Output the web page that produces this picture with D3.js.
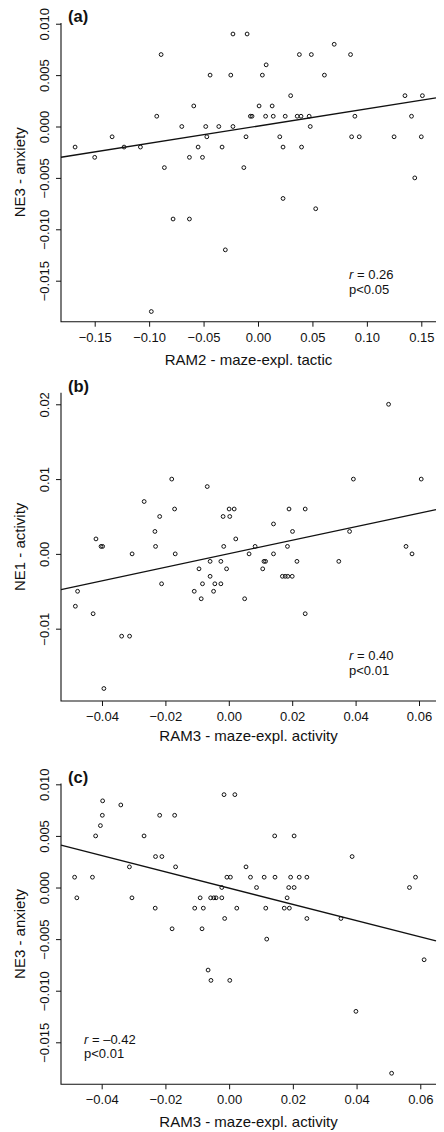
<!DOCTYPE html>
<html lang="en">
<head>
<meta charset="UTF-8">
<title>NE vs RAM scatter plots</title>
<script src="https://d3js.org/d3.v7.min.js"></script>
<style>
    body { margin: 0; background: #fff; }
    text { font-family: "Liberation Sans", Arial, Helvetica, sans-serif; fill: #111; }
    .tick line { stroke: #111; }
    .pt { fill: none; stroke: #111; stroke-width: 1; }
    .fit { stroke: #111; stroke-width: 1.3; fill: none; }
    .frame { stroke: #111; stroke-width: 1.1; fill: none; }
</style>
</head>
<body>
<div id="chart"></div>
<script>
// panel (a): RAM2 vs NE3
const aX = [-0.168, -0.150, -0.134, -0.123, -0.108, -0.093, -0.089, -0.086, -0.070, -0.063,
    -0.059, -0.055, -0.051, -0.048, -0.047, -0.044, -0.036, -0.033, -0.025, -0.023,
    -0.023, -0.013, -0.011, -0.010, -0.007, -0.0055, 0.001, 0.004, 0.007, 0.0075,
    0.013, 0.014, 0.020, 0.023, 0.025, 0.030, 0.036, 0.038, 0.0395, 0.040,
    0.047, 0.048, 0.049, 0.061, 0.070, 0.085, 0.086, 0.089, 0.093, 0.125,
    0.135, 0.141, 0.144, 0.150, 0.151, 0.023, 0.053, -0.078, -0.063, -0.030, -0.098];
const aY = [-0.002, -0.003, -0.001, -0.002, -0.002, 0.001, 0.007, -0.004, 0.000, -0.003,
    0.002, -0.002, -0.003, 0.000, -0.001, 0.005, 0.000, -0.002, 0.005, 0.009,
    0.000, -0.004, -0.001, 0.009, 0.001, 0.001, 0.002, 0.005, 0.001, 0.006,
    0.002, 0.001, -0.001, -0.002, 0.001, 0.003, 0.001, 0.007, 0.001, -0.002,
    0.001, 0.000, 0.007, 0.005, 0.008, 0.007, -0.001, 0.001, -0.001, -0.001,
    0.003, 0.001, -0.005, -0.001, 0.003, -0.007, -0.008, -0.009, -0.009, -0.012, -0.018];

// panel (b): RAM3 vs NE1
const bX = [0.0504, -0.0180, 0.0393, 0.0607, -0.0068, -0.0267, -0.0171, 0.0001, 0.0017, 0.0190,
    0.0241, -0.0218, -0.0018, 0.0003, 0.0141, -0.0233, 0.0201, 0.0381, -0.0419, 0.0022,
    -0.0403, -0.0398, -0.0231, -0.0016, 0.0083, 0.0185, 0.0559, -0.0305, -0.0169, 0.0064,
    0.0141, 0.0578, -0.0059, -0.0025, 0.0111, 0.0116, 0.0215, 0.0347, -0.0094, -0.0007,
    0.0107, -0.0059, 0.0169, 0.0178, 0.0186, 0.0200, -0.0212, -0.0083, -0.0044, -0.0025,
    -0.0477, -0.0109, -0.0048, -0.0087, 0.0050, -0.0484, -0.0428, 0.0241, -0.0338, -0.0313, -0.0394];
const bY = [0.020, 0.010, 0.010, 0.010, 0.009, 0.007, 0.006, 0.006, 0.006, 0.006,
    0.006, 0.005, 0.005, 0.005, 0.004, 0.003, 0.003, 0.003, 0.002, 0.002,
    0.001, 0.001, 0.001, 0.001, 0.001, 0.001, 0.001, 0.000, 0.000, 0.000,
    0.000, 0.000, -0.001, -0.001, -0.001, -0.001, -0.001, -0.001, -0.002, -0.002,
    -0.002, -0.003, -0.003, -0.003, -0.003, -0.003, -0.004, -0.004, -0.004, -0.004,
    -0.005, -0.005, -0.005, -0.006, -0.006, -0.007, -0.008, -0.008, -0.011, -0.011, -0.018];

// panel (c): RAM3 vs NE3
const cX = [-0.0397, -0.0340, -0.0016, 0.0018, -0.0398, -0.0218, -0.0171, -0.0404, -0.0419, -0.0267,
    0.0143, 0.0204, -0.0231, -0.0211, 0.0386, -0.0313, -0.0168, 0.0053, -0.0485, -0.0429,
    -0.0007, 0.0004, 0.0067, 0.0110, 0.0144, 0.0193, 0.0220, 0.0244, 0.0585, -0.0023,
    0.0086, 0.0187, 0.0204, 0.0566, -0.0478, -0.0305, -0.0091, -0.0058, -0.0048, -0.0041,
    -0.0023, 0.0182, -0.0232, -0.0108, -0.0081, 0.0024, 0.0115, 0.0173, 0.0189, -0.0014,
    0.0244, 0.0351, -0.0179, -0.0085, 0.0118, 0.0612, -0.0066, -0.0057, 0.0002, 0.0398, 0.0510];
const cY = [0.0084, 0.008, 0.009, 0.009, 0.007, 0.007, 0.007, 0.006, 0.005, 0.005,
    0.005, 0.005, 0.003, 0.003, 0.003, 0.002, 0.002, 0.002, 0.001, 0.001,
    0.001, 0.001, 0.001, 0.001, 0.001, 0.001, 0.001, 0.001, 0.001, 0.000,
    0.000, 0.000, 0.000, 0.000, -0.001, -0.001, -0.001, -0.001, -0.001, -0.001,
    -0.001, -0.001, -0.002, -0.002, -0.002, -0.002, -0.002, -0.002, -0.002, -0.003,
    -0.003, -0.003, -0.004, -0.004, -0.005, -0.007, -0.008, -0.009, -0.009, -0.012, -0.018];

// fitted lines [intercept, slope]
const aFit = [0.00004, 0.01675];
const bFit = [0.00002, 0.0904];
const cFit = [-0.00006, -0.0788];

// tick values
const xTicksA = [-0.15, -0.10, -0.05, 0.00, 0.05, 0.10, 0.15];
const xTicksBC = [-0.04, -0.02, 0.00, 0.02, 0.04, 0.06];
const yTicksA = [0.010, 0.005, 0.000, -0.005, -0.010, -0.015];
const yTicksB = [0.02, 0.01, 0.00, -0.01];
const yTicksC = [0.010, 0.005, 0.000, -0.005, -0.010, -0.015];

const W = 444, H = 1132;
const left = 61, right = 436;

const panels = [
    { tag: "(a)", xs: aX, ys: aY, fit: aFit, xTicks: xTicksA, yTicks: yTicksA,
      xFmt: ".2f", yFmt: ".3f", xDom: [-0.18095, 0.1635], yDom: [-0.01899, 0.01007],
      top: 23, bottom: 321.7, xTitleGap: 43.5,
      xTitle: "RAM2 - maze-expl. tactic", yTitle: "NE3 - anxiety",
      stat: ["0.26", "p<0.05"], statX: 349, statY: 279 },
    { tag: "(b)", xs: bX, ys: bY, fit: bFit, xTicks: xTicksBC, yTicks: yTicksB,
      xFmt: ".2f", yFmt: ".2f", xDom: [-0.05293, 0.06536], yDom: [-0.01967, 0.02155],
      top: 392.7, bottom: 701, xTitleGap: 40,
      xTitle: "RAM3 - maze-expl. activity", yTitle: "NE1 - activity",
      stat: ["0.40", "p<0.01"], statX: 349, statY: 660 },
    { tag: "(c)", xs: cX, ys: cY, fit: cFit, xTicks: xTicksBC, yTicks: yTicksC,
      xFmt: ".2f", yFmt: ".3f", xDom: [-0.05277, 0.06493], yDom: [-0.01907, 0.01008],
      top: 783.5, bottom: 1084.3, xTitleGap: 43,
      xTitle: "RAM3 - maze-expl. activity", yTitle: "NE3 - anxiety",
      stat: ["\u20130.42", "p<0.01"], statX: 84, statY: 1043.5 }
];

const svg = d3.select("#chart").append("svg")
    .attr("width", W)
    .attr("height", H);

panels.forEach(p => {
    const x = d3.scaleLinear().domain(p.xDom).range([left, right]);
    const y = d3.scaleLinear().domain(p.yDom).range([p.bottom, p.top]);
    const g = svg.append("g");

    // L-shaped frame
    g.append("path")
        .attr("class", "frame")
        .attr("d", `M${left},${p.top}V${p.bottom}H${right}`);

    // x axis
    const xa = g.append("g")
        .attr("transform", `translate(0,${p.bottom})`)
        .call(d3.axisBottom(x).tickValues(p.xTicks).tickFormat(d3.format(p.xFmt)).tickSize(5));
    xa.select(".domain").remove();
    xa.selectAll(".tick text")
        .attr("y", 20).attr("dy", 0)
        .style("font-size", "13px");

    // y axis with rotated labels
    const ya = g.append("g")
        .attr("transform", `translate(${left},0)`)
        .call(d3.axisLeft(y).tickValues(p.yTicks).tickFormat(d3.format(p.yFmt)).tickSize(5));
    ya.select(".domain").remove();
    ya.selectAll(".tick text")
        .attr("transform", "rotate(-90)")
        .attr("x", 0).attr("y", -12).attr("dy", 0)
        .attr("text-anchor", "middle")
        .style("font-size", "13px");

    // axis titles
    g.append("text")
        .attr("x", (left + right) / 2)
        .attr("y", p.bottom + p.xTitleGap)
        .attr("text-anchor", "middle")
        .style("font-size", "15px")
        .text(p.xTitle);
    g.append("text")
        .attr("transform", `translate(25,${(p.top + p.bottom) / 2}) rotate(-90)`)
        .attr("text-anchor", "middle")
        .style("font-size", "15px")
        .text(p.yTitle);

    // panel tag
    g.append("text")
        .attr("x", 68)
        .attr("y", p.top - 1)
        .style("font-size", "16.5px")
        .style("font-weight", "bold")
        .text(p.tag);

    // regression line
    g.append("line")
        .attr("class", "fit")
        .attr("x1", x(p.xDom[0])).attr("y1", y(p.fit[0] + p.fit[1] * p.xDom[0]))
        .attr("x2", x(p.xDom[1])).attr("y2", y(p.fit[0] + p.fit[1] * p.xDom[1]));

    // points
    g.append("g")
        .selectAll("circle")
        .data(p.xs.map((v, i) => [v, p.ys[i]]))
        .enter().append("circle")
        .attr("class", "pt")
        .attr("cx", d => x(d[0]))
        .attr("cy", d => y(d[1]))
        .attr("r", 1.9);

    // r and p annotation
    const st = g.append("text")
        .attr("x", p.statX)
        .attr("y", p.statY)
        .style("font-size", "13px");
    st.append("tspan").style("font-style", "italic").text("r");
    st.append("tspan").text(" = " + p.stat[0]);
    g.append("text")
        .attr("x", p.statX)
        .attr("y", p.statY + 14.5)
        .style("font-size", "13px")
        .text(p.stat[1]);
});
</script>
</body>
</html>
